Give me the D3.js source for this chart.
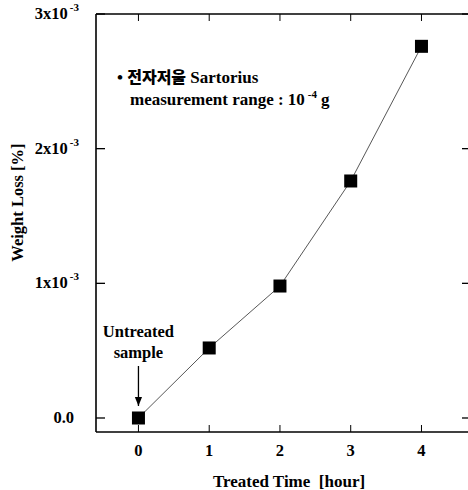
<!DOCTYPE html>
<html><head><meta charset="utf-8">
<script src="https://cdn.jsdelivr.net/npm/d3@7"></script>
<style>body{margin:0;background:#fff}svg{display:block}</style>
</head><body>
<script>
const hours = [0, 1, 2, 3, 4];
const weightLoss = [0, 0.52e-3, 0.98e-3, 1.76e-3, 2.76e-3];
const xTicks = [0, 1, 2, 3, 4];
const yTicks = [0, 1e-3, 2e-3, 3e-3];
const yTickLabels = [["0.0", ""], ["1x10", "-3"], ["2x10", "-3"], ["3x10", "-3"]];

const W = 468, H = 490;
const m = {left: 96, right: -3, top: 14, bottom: 58};
const svg = d3.select("body").append("svg").attr("width", W).attr("height", H);
const font = "'Liberation Serif', 'Times New Roman', serif";
const fs = 16.5;

const x = d3.scaleLinear().domain([-0.6, 4.7]).range([m.left, W - m.right]);
const y = d3.scaleLinear().domain([-0.104e-3, 3e-3]).range([H - m.bottom, m.top]);

const g = svg.append("g");
// frame
const axisG = g.append("g").attr("stroke", "#000").attr("fill", "none");
axisG.append("line").attr("x1", x.range()[0]).attr("x2", x.range()[1]).attr("y1", y.range()[0]).attr("y2", y.range()[0]).attr("stroke-width", 1.5);
axisG.append("line").attr("x1", x.range()[0]).attr("x2", x.range()[1]).attr("y1", y.range()[1]).attr("y2", y.range()[1]).attr("stroke-width", 1.5);
axisG.append("line").attr("x1", x.range()[0]).attr("x2", x.range()[0]).attr("y1", y.range()[0]).attr("y2", y.range()[1]).attr("stroke-width", 1.6);
axisG.append("line").attr("x1", x.range()[1]).attr("x2", x.range()[1]).attr("y1", y.range()[0]).attr("y2", y.range()[1]).attr("stroke-width", 1.5);

// ticks (inward)
xTicks.forEach(t => {
  axisG.append("line").attr("x1", x(t)).attr("x2", x(t)).attr("y1", y.range()[0]).attr("y2", y.range()[0] - 7);
  axisG.append("line").attr("x1", x(t)).attr("x2", x(t)).attr("y1", y.range()[1]).attr("y2", y.range()[1] + 7);
});
yTicks.forEach(t => {
  axisG.append("line").attr("x1", x.range()[0]).attr("x2", x.range()[0] + 9).attr("y1", y(t)).attr("y2", y(t)).attr("stroke-width", 1.3);
  axisG.append("line").attr("x1", x.range()[1]).attr("x2", x.range()[1] - 9).attr("y1", y(t)).attr("y2", y(t)).attr("stroke-width", 1.3);
});

// x tick labels
g.selectAll(".xt").data(xTicks).join("text")
  .attr("x", d => x(d)).attr("y", y.range()[0] + 24)
  .attr("text-anchor", "middle").attr("font-family", font).attr("font-weight", "bold").attr("font-size", fs)
  .text(d => d);

// y tick labels
yTicks.forEach((t, i) => {
  const [base, sup] = yTickLabels[i];
  const tx = g.append("text").attr("x", sup ? 79 : 74).attr("y", y(t) + 5)
    .attr("text-anchor", "end").attr("font-family", font).attr("font-weight", "bold").attr("font-size", fs);
  tx.append("tspan").text(base);
  if (sup) tx.append("tspan").attr("dy", -8).attr("dx", 2).attr("font-size", 11).text(sup);
});

// axis titles
g.append("text").attr("x", 289).attr("y", 487)
  .attr("text-anchor", "middle").attr("font-family", font).attr("font-weight", "bold").attr("font-size", 17)
  .attr("xml:space", "preserve").text("Treated Time  [hour]");
g.append("text").attr("transform", `translate(23,${y(1.6e-3)}) rotate(-90)`)
  .attr("text-anchor", "middle").attr("font-family", font).attr("font-weight", "bold").attr("font-size", fs)
  .text("Weight Loss [%]");

// line
g.append("path").datum(hours.map((h, i) => [h, weightLoss[i]]))
  .attr("fill", "none").attr("stroke", "#444").attr("stroke-width", 0.9)
  .attr("d", d3.line().x(d => x(d[0])).y(d => y(d[1])));

// markers
const s = 13;
g.selectAll(".pt").data(hours).join("rect")
  .attr("x", (d) => x(d) - s / 2).attr("y", (d, i) => y(weightLoss[i]) - s / 2)
  .attr("width", s).attr("height", s).attr("fill", "#000");

// annotation
const ann = g.append("text").attr("x", 117).attr("y", 83).attr("font-family", font).attr("font-weight", "bold").attr("font-size", 17);
ann.append("tspan").text("• ");
ann.append("tspan").attr("font-family", "'Noto Sans CJK KR', sans-serif").attr("font-weight", "900").attr("font-size", 16).text("전자저울");
ann.append("tspan").text(" Sartorius");
const ann2 = g.append("text").attr("x", 130).attr("y", 105).attr("font-family", font).attr("font-weight", "bold").attr("font-size", 17);
ann2.append("tspan").text("measurement range : 10");
ann2.append("tspan").attr("dy", -7).attr("dx", 3).attr("font-size", 11).text("-4");
ann2.append("tspan").attr("dy", 7).attr("dx", 4).text("g");

// Untreated label + arrow
g.append("text").attr("x", x(0)).attr("y", 337).attr("text-anchor", "middle")
  .attr("font-family", font).attr("font-weight", "bold").attr("font-size", fs).text("Untreated");
g.append("text").attr("x", x(0)).attr("y", 358).attr("text-anchor", "middle")
  .attr("font-family", font).attr("font-weight", "bold").attr("font-size", fs).text("sample");
svg.append("defs").append("marker").attr("id", "ah").attr("viewBox", "0 0 10 10").attr("refX", 10).attr("refY", 5)
  .attr("markerWidth", 7).attr("markerHeight", 8).attr("orient", "auto")
  .append("path").attr("d", "M0,1 L10,5 L0,9 Z").attr("fill", "#000");
g.append("line").attr("x1", x(0)).attr("x2", x(0)).attr("y1", 366).attr("y2", 406)
  .attr("stroke", "#000").attr("stroke-width", 1.3).attr("marker-end", "url(#ah)");
</script>
</body></html>
